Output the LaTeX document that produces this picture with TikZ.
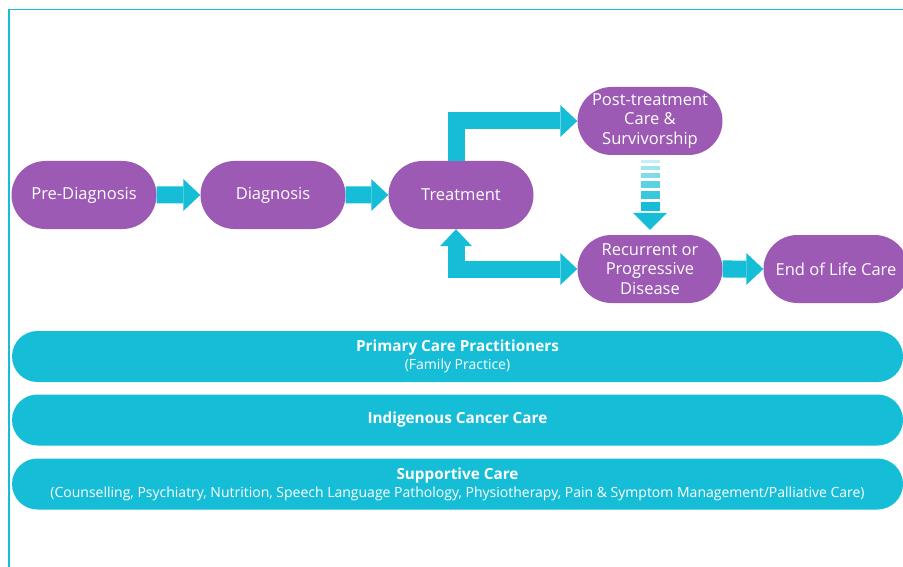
\documentclass[tikz,border=0pt]{standalone}
\usepackage{fontspec}
\setmainfont{Open Sans}
\usetikzlibrary{arrows.meta, shapes.misc, calc}

\definecolor{stagepurple}{RGB}{157,90,180}
\definecolor{flowcyan}{RGB}{22,189,214}

\begin{document}
\begin{tikzpicture}[x=1pt, y=-1pt]
        \tikzset{stage/.style = {shape=rounded rectangle, fill=stagepurple, text=white, minimum width=145pt, minimum height=68pt, inner sep=0pt, align=center, font=\fontsize{16.5}{19.5}\selectfont}}
        \tikzset{band/.style = {shape=rounded rectangle, fill=flowcyan, text=white, minimum width=891pt, minimum height=51pt, inner sep=0pt, align=center, font=\fontsize{14}{18}\selectfont}}
        \tikzset{flow/.style = {draw=flowcyan, line width=17pt, line join=miter, -{Triangle[length=17pt, width=32pt, line width=0pt]}}}
        \useasboundingbox (0,0) rectangle (903,567);
        \draw[flowcyan, line width=1.5pt] (9,9.5) rectangle (960,620);

        \node[stage] (pre) at (84, 195) {Pre-Diagnosis};
        \node[stage] (diag) at (273, 195) {Diagnosis};
        \node[stage] (treat) at (461, 195) {Treatment};
        \node[stage] (post) at (650, 121) {Post-treatment\\Care \&\\Survivorship};
        \node[stage] (rec) at (650, 269) {Recurrent or\\Progressive\\Disease};
        \node[stage] (end) at (836, 269) {End of Life Care};

        \draw[flow] (pre) -- (diag);
        \draw[flow] (diag) -- (treat);
        \draw[flow] ([xshift=-5pt]treat.north) |- (post.west);
        \draw[flow, {Triangle[length=17pt, width=32pt, line width=0pt]}-{Triangle[length=17pt, width=32pt, line width=0pt]}] ([xshift=-5pt]treat.south) |- (rec.west);
        \draw[flow] (rec) -- (end);

        % fading arrow from post-treatment down to recurrence
        \foreach \a/\b/\o in {5/8/0.25, 11/15/0.4, 18/23/0.55, 26/33/0.7, 36/44/0.85, 47/56/1}
          \fill[flowcyan, opacity=\o] ($(post.south)+(-9.5,\a)$) rectangle ($(post.south)+(9.5,\b)$);
        \coordinate (tip) at ($(rec.north)+(0,-5)$);
        \fill[flowcyan] (tip) -- ++(-17,-17) -- ++(34,0) -- cycle;

        \node[band] (primary) at (457.5, 356.5) {{\bfseries\fontsize{15.3}{18}\selectfont Primary Care Practitioners}\\(Family Practice)};
        \node[band] (indig) at (457.5, 420) {\bfseries\fontsize{15.3}{18}\selectfont Indigenous Cancer Care};
        \node[band] (support) at (457.5, 484) {{\bfseries\fontsize{15.3}{19}\selectfont Supportive Care}\\(Counselling, Psychiatry, Nutrition, Speech Language Pathology, Physiotherapy, Pain \& Symptom Management/Palliative Care)};
      \end{tikzpicture}
\end{document}
